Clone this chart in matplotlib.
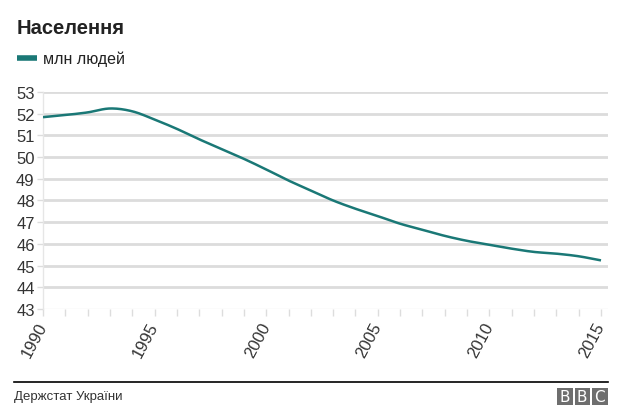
import numpy as np
import matplotlib
matplotlib.use("Agg")
import matplotlib.pyplot as plt
from matplotlib.patches import Rectangle
from matplotlib.lines import Line2D

years = [1990, 1991, 1992, 1993, 1994, 1995, 1996, 1997, 1998, 1999, 2000,
         2001, 2002, 2003, 2004, 2005, 2006, 2007, 2008, 2009, 2010,
         2011, 2012, 2013, 2014, 2015]
population = [51.84, 51.94, 52.06, 52.24, 52.11, 51.73, 51.30, 50.82, 50.37,
              49.92, 49.43, 48.92, 48.46, 48.00, 47.62, 47.28, 46.93, 46.65,
              46.37, 46.14, 45.96, 45.78, 45.63, 45.55, 45.43, 45.24]
yticks = [43, 44, 45, 46, 47, 48, 49, 50, 51, 52, 53]
xticks = [1990, 1995, 2000, 2005, 2010, 2015]

title = "Населення"
series_label = "млн людей"
source = "Держстат України"

TEAL = "#1a7876"
plt.rcParams['font.family'] = ['Liberation Sans', 'DejaVu Sans']


def smooth(x, y, n=20):
    # Catmull-Rom style cubic Hermite through the data points
    x = np.asarray(x, float)
    y = np.asarray(y, float)
    m = np.zeros_like(y)
    m[1:-1] = (y[2:] - y[:-2]) / (x[2:] - x[:-2])
    m[0] = (y[1] - y[0]) / (x[1] - x[0])
    m[-1] = (y[-1] - y[-2]) / (x[-1] - x[-2])
    xs, ys = [], []
    for i in range(len(x) - 1):
        h = x[i + 1] - x[i]
        t = np.linspace(0, 1, n, endpoint=False)
        h00 = 2 * t**3 - 3 * t**2 + 1
        h10 = t**3 - 2 * t**2 + t
        h01 = -2 * t**3 + 3 * t**2
        h11 = t**3 - t**2
        xs.append(x[i] + t * h)
        ys.append(h00 * y[i] + h10 * h * m[i] + h01 * y[i + 1] + h11 * h * m[i + 1])
    xs.append([x[-1]])
    ys.append([y[-1]])
    return np.concatenate(xs), np.concatenate(ys)


W, H = 625, 414
fig = plt.figure(figsize=(W / 100, H / 100), dpi=100)
fig.patch.set_facecolor("white")

left, right, top, bottom = 43, 608, 93, 310
ax = fig.add_axes([left / W, 1 - bottom / H, (right - left) / W, (bottom - top) / H])

xs, ys = smooth(years, population)
ax.plot(xs, ys, color=TEAL, lw=1.8, solid_capstyle="butt", zorder=3)

ax.set_ylim(43, 53)
ax.set_xlim(1990, 1990 + (2015 - 1990) * (right - left) / (601 - left))
ax.set_yticks(yticks)
ax.set_yticklabels([str(v) for v in yticks], fontsize=12, color="#333333")
ax.set_xticks(xticks)
ax.set_xticklabels([str(v) for v in xticks], fontsize=12, color="#333333",
                   rotation=62, ha="right", va="center", rotation_mode="anchor")
ax.set_xticks(years, minor=True)

for v in yticks[1:]:
    ax.axhline(v, color="#dcdcdc", lw=2, zorder=1)

for s in ["top", "right", "bottom"]:
    ax.spines[s].set_visible(False)
ax.spines["left"].set_color("#e6e6e6")
ax.spines["left"].set_linewidth(1)
ax.tick_params(axis="y", length=4, width=1, color="#dddddd", pad=2)
ax.tick_params(axis="x", which="both", length=5, width=1, color="#dddddd",
               direction="out", pad=5)
ax.axhline(43, color="#eeeeee", lw=1, zorder=1)

# Title and legend
fig.text(17 / W, 1 - 29 / H, title, fontsize=14.5, fontweight="bold",
         color="#222222", va="center", ha="left")
fig.add_artist(Line2D([17 / W, 37 / W], [1 - 59 / H, 1 - 59 / H],
                      color=TEAL, lw=4, solid_capstyle="butt"))
fig.text(43 / W, 1 - 59 / H, series_label, fontsize=11.5, color="#222222",
         va="center", ha="left")

# Footer
fig.add_artist(Line2D([14 / W, 608 / W], [1 - 383 / H, 1 - 383 / H],
                      color="black", lw=1.2))
fig.text(14 / W, 1 - 397 / H, source, fontsize=9.5, color="#333333",
         va="center", ha="left")
for i, letter in enumerate("BBC"):
    x0 = 557 + i * 17.5
    fig.add_artist(Rectangle((x0 / W, 1 - 406 / H), 15.5 / W, 17 / H,
                             facecolor="#6e6e6e", edgecolor="none",
                             transform=fig.transFigure))
    fig.text((x0 + 7.75) / W, 1 - 397.5 / H, letter, fontsize=11,
             color="white", ha="center", va="center",
             family=["DejaVu Sans"])

fig.savefig("out.png", dpi=100, facecolor="white")
